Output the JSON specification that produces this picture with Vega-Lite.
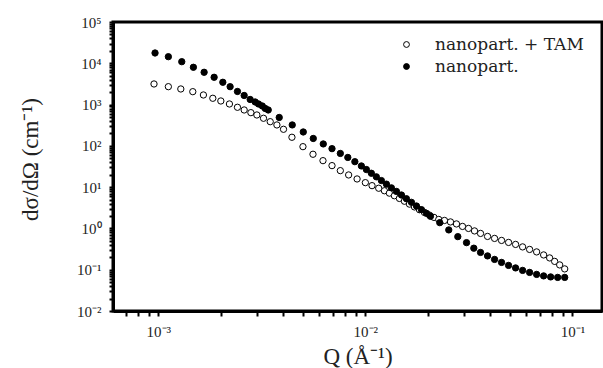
{
  "$schema": "https://vega.github.io/schema/vega-lite/v6.json",
  "autosize": {"type": "none"},
  "padding": {"left": 113, "top": 22, "right": 1, "bottom": 57},
  "width": 489,
  "height": 289,
  "background": "white",
  "config": {
    "font": "Liberation Serif",
    "view": {"stroke": "black", "strokeWidth": 3},
    "axis": {"grid": false, "domainColor": "black", "domainWidth": 3, "tickColor": "black", "tickWidth": 2, "labelFont": "Liberation Serif", "titleFont": "Liberation Serif", "labelColor": "#222", "titleColor": "#222", "labelFontSize": 15, "titleFontSize": 23, "titleFontWeight": "normal"}
  },
  "data": {"values": [
    {"Q": 0.000953, "I": 3155, "s": "nanopart. + TAM"},
    {"Q": 0.001118, "I": 2713, "s": "nanopart. + TAM"},
    {"Q": 0.001284, "I": 2387, "s": "nanopart. + TAM"},
    {"Q": 0.001467, "I": 2053, "s": "nanopart. + TAM"},
    {"Q": 0.001651, "I": 1708, "s": "nanopart. + TAM"},
    {"Q": 0.001833, "I": 1421, "s": "nanopart. + TAM"},
    {"Q": 0.002004, "I": 1222, "s": "nanopart. + TAM"},
    {"Q": 0.002205, "I": 1034, "s": "nanopart. + TAM"},
    {"Q": 0.002411, "I": 860, "s": "nanopart. + TAM"},
    {"Q": 0.002598, "I": 740, "s": "nanopart. + TAM"},
    {"Q": 0.002799, "I": 637, "s": "nanopart. + TAM"},
    {"Q": 0.002992, "I": 560, "s": "nanopart. + TAM"},
    {"Q": 0.003221, "I": 466, "s": "nanopart. + TAM"},
    {"Q": 0.003471, "I": 385, "s": "nanopart. + TAM"},
    {"Q": 0.003739, "I": 321, "s": "nanopart. + TAM"},
    {"Q": 0.004024, "I": 252, "s": "nanopart. + TAM"},
    {"Q": 0.004419, "I": 161.5, "s": "nanopart. + TAM"},
    {"Q": 0.004995, "I": 95.6, "s": "nanopart. + TAM"},
    {"Q": 0.005585, "I": 62.6, "s": "nanopart. + TAM"},
    {"Q": 0.006242, "I": 43.8, "s": "nanopart. + TAM"},
    {"Q": 0.0069, "I": 33.2, "s": "nanopart. + TAM"},
    {"Q": 0.00757, "I": 25.1, "s": "nanopart. + TAM"},
    {"Q": 0.008303, "I": 19.74, "s": "nanopart. + TAM"},
    {"Q": 0.00912, "I": 15.79, "s": "nanopart. + TAM"},
    {"Q": 0.01, "I": 12.85, "s": "nanopart. + TAM"},
    {"Q": 0.01077, "I": 10.87, "s": "nanopart. + TAM"},
    {"Q": 0.0116, "I": 9.41, "s": "nanopart. + TAM"},
    {"Q": 0.01236, "I": 8.18, "s": "nanopart. + TAM"},
    {"Q": 0.01306, "I": 7.16, "s": "nanopart. + TAM"},
    {"Q": 0.01381, "I": 6.19, "s": "nanopart. + TAM"},
    {"Q": 0.0146, "I": 5.33, "s": "nanopart. + TAM"},
    {"Q": 0.01544, "I": 4.56, "s": "nanopart. + TAM"},
    {"Q": 0.01633, "I": 3.88, "s": "nanopart. + TAM"},
    {"Q": 0.01726, "I": 3.32, "s": "nanopart. + TAM"},
    {"Q": 0.01825, "I": 2.84, "s": "nanopart. + TAM"},
    {"Q": 0.01929, "I": 2.44, "s": "nanopart. + TAM"},
    {"Q": 0.0204, "I": 2.1, "s": "nanopart. + TAM"},
    {"Q": 0.02145, "I": 1.85, "s": "nanopart. + TAM"},
    {"Q": 0.02262, "I": 1.65, "s": "nanopart. + TAM"},
    {"Q": 0.02411, "I": 1.56, "s": "nanopart. + TAM"},
    {"Q": 0.02577, "I": 1.437, "s": "nanopart. + TAM"},
    {"Q": 0.02755, "I": 1.285, "s": "nanopart. + TAM"},
    {"Q": 0.02946, "I": 1.118, "s": "nanopart. + TAM"},
    {"Q": 0.03149, "I": 1.0, "s": "nanopart. + TAM"},
    {"Q": 0.03367, "I": 0.87, "s": "nanopart. + TAM"},
    {"Q": 0.036, "I": 0.757, "s": "nanopart. + TAM"},
    {"Q": 0.03892, "I": 0.64, "s": "nanopart. + TAM"},
    {"Q": 0.04208, "I": 0.573, "s": "nanopart. + TAM"},
    {"Q": 0.04548, "I": 0.512, "s": "nanopart. + TAM"},
    {"Q": 0.04917, "I": 0.458, "s": "nanopart. + TAM"},
    {"Q": 0.05316, "I": 0.41, "s": "nanopart. + TAM"},
    {"Q": 0.05748, "I": 0.357, "s": "nanopart. + TAM"},
    {"Q": 0.06213, "I": 0.31, "s": "nanopart. + TAM"},
    {"Q": 0.06718, "I": 0.27, "s": "nanopart. + TAM"},
    {"Q": 0.07263, "I": 0.228, "s": "nanopart. + TAM"},
    {"Q": 0.07765, "I": 0.193, "s": "nanopart. + TAM"},
    {"Q": 0.0821, "I": 0.159, "s": "nanopart. + TAM"},
    {"Q": 0.08682, "I": 0.1307, "s": "nanopart. + TAM"},
    {"Q": 0.0918, "I": 0.1046, "s": "nanopart. + TAM"},
    {"Q": 0.000964, "I": 17760, "s": "nanopart."},
    {"Q": 0.001118, "I": 14450, "s": "nanopart."},
    {"Q": 0.001298, "I": 10930, "s": "nanopart."},
    {"Q": 0.001477, "I": 8004, "s": "nanopart."},
    {"Q": 0.001664, "I": 6056, "s": "nanopart."},
    {"Q": 0.00186, "I": 4581, "s": "nanopart."},
    {"Q": 0.002049, "I": 3467, "s": "nanopart."},
    {"Q": 0.002222, "I": 2713, "s": "nanopart."},
    {"Q": 0.002411, "I": 2076, "s": "nanopart."},
    {"Q": 0.002598, "I": 1661, "s": "nanopart."},
    {"Q": 0.002777, "I": 1329, "s": "nanopart."},
    {"Q": 0.002936, "I": 1156, "s": "nanopart."},
    {"Q": 0.003047, "I": 1034, "s": "nanopart."},
    {"Q": 0.003177, "I": 925, "s": "nanopart."},
    {"Q": 0.003284, "I": 805, "s": "nanopart."},
    {"Q": 0.003395, "I": 740, "s": "nanopart."},
    {"Q": 0.003837, "I": 487, "s": "nanopart."},
    {"Q": 0.004434, "I": 321, "s": "nanopart."},
    {"Q": 0.005013, "I": 217, "s": "nanopart."},
    {"Q": 0.005603, "I": 151, "s": "nanopart."},
    {"Q": 0.006262, "I": 111.2, "s": "nanopart."},
    {"Q": 0.0069, "I": 85.5, "s": "nanopart."},
    {"Q": 0.00757, "I": 65.5, "s": "nanopart."},
    {"Q": 0.008227, "I": 52.4, "s": "nanopart."},
    {"Q": 0.008897, "I": 41.4, "s": "nanopart."},
    {"Q": 0.009566, "I": 32.6, "s": "nanopart."},
    {"Q": 0.010113, "I": 26.7, "s": "nanopart."},
    {"Q": 0.01069, "I": 21.7, "s": "nanopart."},
    {"Q": 0.0113, "I": 17.8, "s": "nanopart."},
    {"Q": 0.01195, "I": 14.45, "s": "nanopart."},
    {"Q": 0.01264, "I": 11.82, "s": "nanopart."},
    {"Q": 0.01336, "I": 9.62, "s": "nanopart."},
    {"Q": 0.01413, "I": 7.87, "s": "nanopart."},
    {"Q": 0.01494, "I": 6.44, "s": "nanopart."},
    {"Q": 0.01579, "I": 5.24, "s": "nanopart."},
    {"Q": 0.0167, "I": 4.29, "s": "nanopart."},
    {"Q": 0.01765, "I": 3.49, "s": "nanopart."},
    {"Q": 0.01866, "I": 2.85, "s": "nanopart."},
    {"Q": 0.01973, "I": 2.32, "s": "nanopart."},
    {"Q": 0.02063, "I": 1.97, "s": "nanopart."},
    {"Q": 0.02288, "I": 1.38, "s": "nanopart."},
    {"Q": 0.02529, "I": 0.92, "s": "nanopart."},
    {"Q": 0.02796, "I": 0.633, "s": "nanopart."},
    {"Q": 0.03081, "I": 0.453, "s": "nanopart."},
    {"Q": 0.03341, "I": 0.332, "s": "nanopart."},
    {"Q": 0.036, "I": 0.262, "s": "nanopart."},
    {"Q": 0.03892, "I": 0.216, "s": "nanopart."},
    {"Q": 0.04208, "I": 0.1776, "s": "nanopart."},
    {"Q": 0.04548, "I": 0.1502, "s": "nanopart."},
    {"Q": 0.04917, "I": 0.1271, "s": "nanopart."},
    {"Q": 0.05316, "I": 0.1105, "s": "nanopart."},
    {"Q": 0.05748, "I": 0.0962, "s": "nanopart."},
    {"Q": 0.06213, "I": 0.086, "s": "nanopart."},
    {"Q": 0.06718, "I": 0.077, "s": "nanopart."},
    {"Q": 0.07263, "I": 0.0708, "s": "nanopart."},
    {"Q": 0.07852, "I": 0.0669, "s": "nanopart."},
    {"Q": 0.08489, "I": 0.0651, "s": "nanopart."},
    {"Q": 0.0918, "I": 0.0651, "s": "nanopart."}
  ]},
  "mark": {"type": "point", "shape": "circle", "filled": true, "stroke": "black", "strokeWidth": 1, "size": 40, "opacity": 1},
  "encoding": {
    "x": {
      "field": "Q", "type": "quantitative",
      "scale": {"type": "log", "domain": [0.000604, 0.139], "nice": false},
      "axis": {
        "title": "Q  (Å⁻¹)",
        "values": [0.0007, 0.0008, 0.0009, 0.001, 0.002, 0.003, 0.004, 0.005, 0.006, 0.007, 0.008, 0.009, 0.01, 0.02, 0.03, 0.04, 0.05, 0.06, 0.07, 0.08, 0.09, 0.1],
        "tickSize": 5,
        "labelPadding": 8,
        "labelExpr": "abs(log(datum.value)/LN10 - round(log(datum.value)/LN10)) > 0.01 ? '' : '10' + (round(log(datum.value)/LN10) < 0 ? '⁻' : '') + substring('⁰¹²³⁴⁵⁶⁷⁸⁹', abs(round(log(datum.value)/LN10)), abs(round(log(datum.value)/LN10)) + 1)",
        "titlePadding": 6
      }
    },
    "y": {
      "field": "I", "type": "quantitative",
      "scale": {"type": "log", "domain": [0.01, 100000], "nice": false},
      "axis": {
        "title": "dσ/dΩ (cm⁻¹)",
        "values": [0.01, 0.02, 0.03, 0.04, 0.05, 0.06, 0.07, 0.08, 0.09, 0.1, 0.2, 0.3, 0.4, 0.5, 0.6, 0.7, 0.8, 0.9, 1, 2, 3, 4, 5, 6, 7, 8, 9, 10, 20, 30, 40, 50, 60, 70, 80, 90, 100, 200, 300, 400, 500, 600, 700, 800, 900, 1000, 2000, 3000, 4000, 5000, 6000, 7000, 8000, 9000, 10000, 20000, 30000, 40000, 50000, 60000, 70000, 80000, 90000, 100000],
        "tickSize": 4,
        "labelPadding": 8,
        "labelExpr": "abs(log(datum.value)/LN10 - round(log(datum.value)/LN10)) > 0.01 ? '' : '10' + (round(log(datum.value)/LN10) < 0 ? '⁻' : '') + substring('⁰¹²³⁴⁵⁶⁷⁸⁹', abs(round(log(datum.value)/LN10)), abs(round(log(datum.value)/LN10)) + 1)",
        "titlePadding": 34,
        "titleY": 137
      }
    },
    "fill": {
      "field": "s", "type": "nominal",
      "scale": {"domain": ["nanopart. + TAM", "nanopart."], "range": ["white", "black"]},
      "legend": {"title": null, "orient": "none", "legendX": 285, "legendY": 14, "labelFont": "DejaVu Serif", "labelFontSize": 17, "labelColor": "#222", "symbolStrokeColor": "black", "symbolStrokeWidth": 1, "symbolSize": 34, "rowPadding": 4, "labelOffset": 20}
    }
  }
}
